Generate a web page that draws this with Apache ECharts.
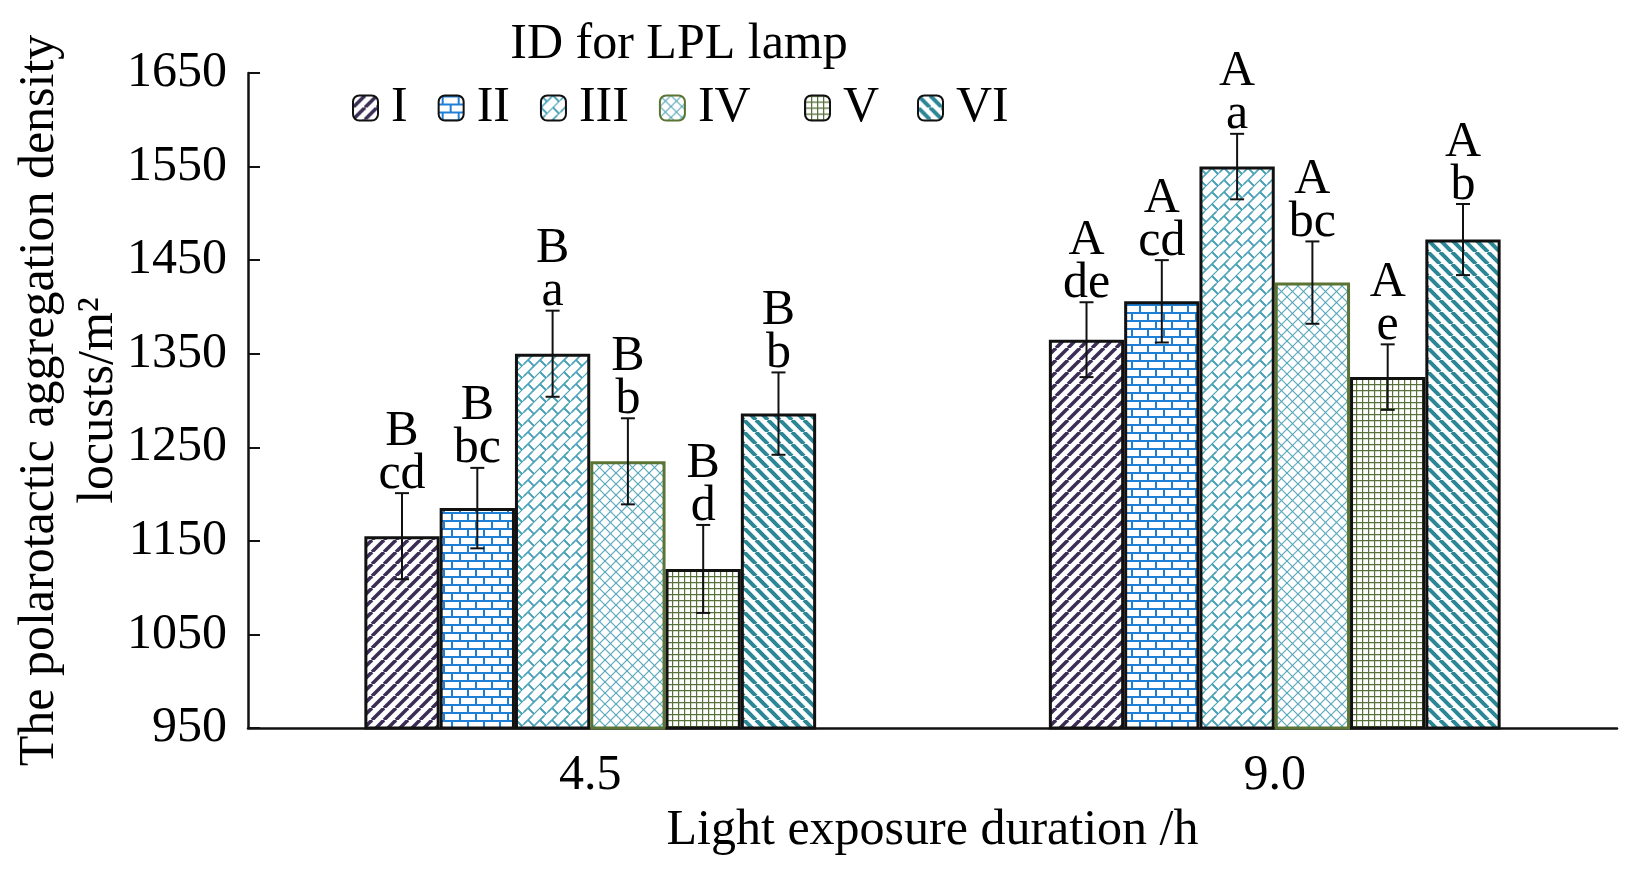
<!DOCTYPE html>
<html>
<head>
<meta charset="utf-8">
<title>Polarotactic aggregation density</title>
<script src="https://cdn.jsdelivr.net/npm/echarts@6/dist/echarts.min.js"></script>
<style>
  html, body { margin: 0; padding: 0; background: #fff; }
  #chart { width: 1633px; height: 869px; }
</style>
</head>
<body>
<div id="chart"></div>
<script>
// data
const categories = ["4.5", "9.0"]
const lamps = ["I", "II", "III", "IV", "V", "VI"]
const mean45 = [1155, 1185, 1350, 1235, 1120, 1286]
const mean90 = [1365, 1406, 1550, 1426, 1325, 1472]
const err45 = [46, 43, 46, 46, 47, 44]
const err90 = [40, 44, 35, 44, 35, 38]
const upper = ["B", "A"]
const lower45 = ["cd", "bc", "a", "b", "d", "b"]
const lower90 = ["de", "cd", "a", "bc", "e", "b"]
const yTicks = { min: 950, max: 1650, interval: 100 }

const FONT = '"Liberation Serif", "Times New Roman", serif'
const BAR_W = 0.11

// small canvases used as repeating fills
function tile(w, h, draw) {
  const c = document.createElement("canvas")
  c.width = w
  c.height = h
  const ctx = c.getContext("2d")
  ctx.fillStyle = "#fff"
  ctx.fillRect(0, 0, w, h)
  draw(ctx, w, h)
  return { image: c, repeat: "repeat" }
}

function diag(ctx, s, dir) {
  // dir 1 -> "/", dir -1 -> "\"
  for (let k = -2; k <= 2; k++) {
    ctx.beginPath()
    if (dir > 0) {
      ctx.moveTo(k * s, s)
      ctx.lineTo(k * s + s, 0)
    } else {
      ctx.moveTo(k * s, 0)
      ctx.lineTo(k * s + s, s)
    }
    ctx.stroke()
  }
}

const patterns = [
  tile(12, 12, (ctx, s) => {
    ctx.strokeStyle = "#3b2d55"
    ctx.lineWidth = 3.5
    diag(ctx, s, 1)
  }),
  tile(16, 16, (ctx, s) => {
    ctx.strokeStyle = "#1f7fd6"
    ctx.lineWidth = 2
    ctx.beginPath()
    ctx.moveTo(0, 1); ctx.lineTo(s, 1)
    ctx.moveTo(0, 9); ctx.lineTo(s, 9)
    ctx.moveTo(4, 1); ctx.lineTo(4, 9)
    ctx.moveTo(12, 9); ctx.lineTo(12, 16)
    ctx.moveTo(12, 0); ctx.lineTo(12, 1)
    ctx.stroke()
  }),
  // slanted bricks, rows along "/" with staggered joints
  tile(24, 24, (ctx, s) => {
    ctx.strokeStyle = "#4da3b9"
    ctx.lineWidth = 1.2
    for (let ox = -s; ox <= s; ox += s) {
      for (let oy = -s; oy <= s; oy += s) {
        for (let k = 0; k < 4; k++) {
          const c = 12 * k
          ctx.beginPath()
          ctx.moveTo(ox - 4, oy + c + 4)
          ctx.lineTo(ox + c + 4, oy - 4)
          ctx.stroke()
          for (let m = -1; m < 4; m++) {
            const x0 = 12 * m
            ctx.beginPath()
            ctx.moveTo(ox + x0, oy + c - x0)
            ctx.lineTo(ox + x0 + 6, oy + c - x0 + 6)
            ctx.stroke()
          }
        }
      }
    }
  }),
  tile(11, 11, (ctx, s) => {
    ctx.strokeStyle = "#5aa8bb"
    ctx.lineWidth = 1.2
    diag(ctx, s, 1)
    diag(ctx, s, -1)
  }),
  tile(6, 6, (ctx, s) => {
    ctx.strokeStyle = "#58703a"
    ctx.lineWidth = 1.4
    ctx.beginPath()
    ctx.moveTo(0, 0.5); ctx.lineTo(s, 0.5)
    ctx.moveTo(0.5, 0); ctx.lineTo(0.5, s)
    ctx.stroke()
  }),
  tile(12, 12, (ctx, s) => {
    ctx.strokeStyle = "#2b8796"
    ctx.lineWidth = 4
    diag(ctx, s, -1)
  }),
]
const borders = ["#111", "#111", "#111", "#5b7434", "#111", "#111"]

const barSeries = lamps.map((name, i) => ({
  name: name,
  type: "bar",
  barWidth: BAR_W * 100 + "%",
  barGap: "0%",
  data: [mean45[i], mean90[i]],
  itemStyle: {
    color: patterns[i],
    borderColor: borders[i],
    borderWidth: 3,
  },
}))

const errData = []
categories.forEach((c, ci) => {
  lamps.forEach((l, li) => {
    const m = ci === 0 ? mean45[li] : mean90[li]
    const e = ci === 0 ? err45[li] : err90[li]
    const low = ci === 0 ? lower45[li] : lower90[li]
    errData.push({ value: [ci, li, m, e], label: upper[ci] + "\n" + low })
  })
})

const errSeries = {
  type: "custom",
  z: 5,
  clip: false,
  silent: true,
  encode: { x: 0, y: 2 },
  data: errData,
  renderItem(params, api) {
    const ci = api.value(0)
    const li = api.value(1)
    const m = api.value(2)
    const e = api.value(3)
    const band = api.size([1, 0])[0]
    const w = band * BAR_W
    const cx = api.coord([ci, m])[0] + (li - 2.5) * w
    const yT = api.coord([ci, m + e])[1]
    const yB = api.coord([ci, m - e])[1]
    const cap = 7
    const ln = { stroke: "#111", lineWidth: 2 }
    return {
      type: "group",
      children: [
        { type: "line", shape: { x1: cx, y1: yT, x2: cx, y2: yB }, style: ln },
        { type: "line", shape: { x1: cx - cap, y1: yT, x2: cx + cap, y2: yT }, style: ln },
        { type: "line", shape: { x1: cx - cap, y1: yB, x2: cx + cap, y2: yB }, style: ln },
        {
          type: "text",
          style: {
            text: errData[params.dataIndex].label,
            x: cx,
            y: yT + 3,
            align: "center",
            verticalAlign: "bottom",
            fontSize: 50,
            fontFamily: FONT,
            lineHeight: 43,
            fill: "#000",
          },
        },
      ],
    }
  },
}

// legend split in three pieces so the spacing follows the reference
function legendPart(names, left) {
  return {
    data: names,
    left: left,
    top: 78,
    itemWidth: 25,
    itemHeight: 25,
    itemGap: 30,
    textStyle: { fontFamily: FONT, fontSize: 50, color: "#000", padding: [0, 0, 0, 8] },
  }
}

const chart = echarts.init(document.getElementById("chart"))
chart.setOption({
  animation: false,
  textStyle: { fontFamily: FONT, color: "#000" },
  title: {
    text: "ID for LPL lamp",
    left: 674,
    top: 14,
    textAlign: "center",
    textStyle: { fontFamily: FONT, fontSize: 50, fontWeight: "normal", color: "#000", lineHeight: 52 },
  },
  legend: [
    legendPart(lamps.slice(0, 4), 347),
    legendPart(lamps.slice(4, 5), 799),
    legendPart(lamps.slice(5), 912),
  ],
  grid: { left: 248, right: 16, top: 73, bottom: 141, outerBoundsMode: "none", containLabel: false },
  xAxis: {
    type: "category",
    data: categories,
    name: "Light exposure duration /h",
    nameLocation: "middle",
    nameGap: 75,
    nameTextStyle: { fontFamily: FONT, fontSize: 50, color: "#000", lineHeight: 50 },
    axisLine: { lineStyle: { color: "#111", width: 2.5 } },
    axisTick: { inside: true, length: 12, lineStyle: { color: "#111", width: 2 } },
    axisLabel: { fontFamily: FONT, fontSize: 50, color: "#000", margin: 23 },
  },
  yAxis: {
    type: "value",
    min: yTicks.min,
    max: yTicks.max,
    interval: yTicks.interval,
    name: "The polarotactic aggregation density\nlocusts/m\u00b2",
    nameLocation: "middle",
    nameRotate: 90,
    nameGap: 120,
    nameMoveOverlap: false,
    nameTextStyle: { fontFamily: FONT, fontSize: 50, color: "#000", lineHeight: 59 },
    splitLine: { show: false },
    axisLine: { show: true, lineStyle: { color: "#111", width: 2.5 } },
    axisTick: { show: true, inside: true, length: 12, lineStyle: { color: "#111", width: 2 } },
    axisLabel: {
      fontFamily: FONT,
      fontSize: 50,
      color: "#000",
      margin: 21,
      formatter: (v) => String(v),
    },
  },
  series: barSeries.concat([errSeries]),
})
</script>
</body>
</html>
